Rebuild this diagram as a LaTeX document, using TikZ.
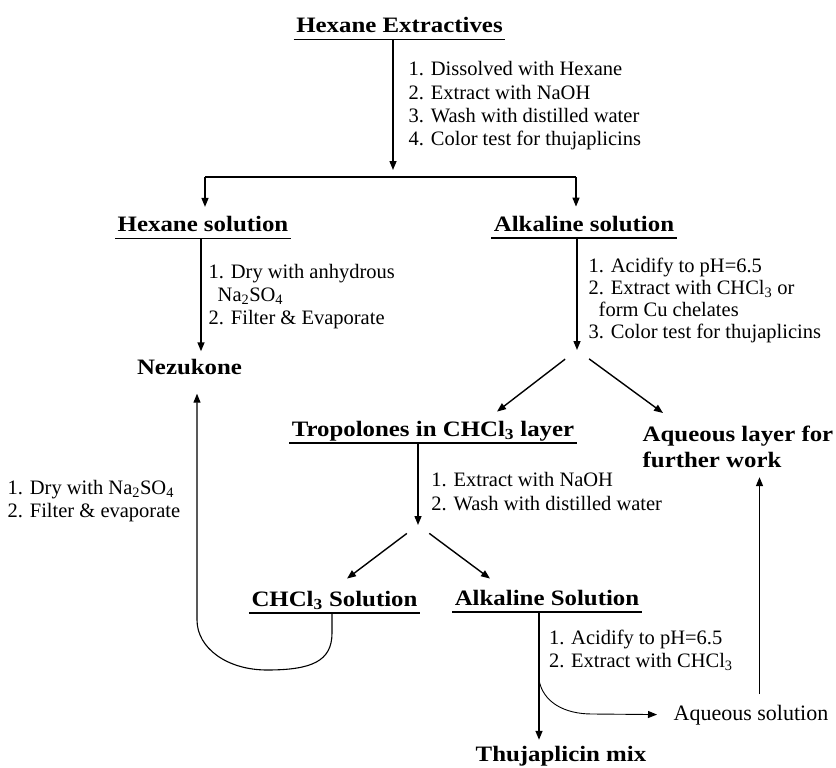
\documentclass[tikz,border=0pt]{standalone}
\usepackage{fontspec}
\setmainfont{Liberation Serif}
\newfontfamily\hdrfont[FakeStretch=1.13]{Liberation Serif}
\usetikzlibrary{arrows.meta}

\begin{document}
\begin{tikzpicture}[x=1pt, y=-1pt, line width=1.4pt,
    arr/.style={-{Triangle[length=9pt,width=7pt]}},
    bold/.style={font=\hdrfont\bfseries\fontsize{22}{26}\selectfont},
    hdr/.style={bold, inner xsep=2pt, inner ysep=0pt, text height=16pt, text depth=6pt},
    steps/.style={font=\fontsize{20.5}{23.3}\selectfont, align=left, inner sep=0pt, anchor=north west}]
    \useasboundingbox (0,0) rectangle (836,768);

    \node[hdr, anchor=south] (ext) at (399.5,39.3) {Hexane Extractives};
    \node[hdr, anchor=south] (hexsol) at (203,238.3) {Hexane solution};
    \node[hdr, anchor=south] (alksol) at (584,238) {Alkaline solution};
    \node[hdr, anchor=base] (nezu) at (189.5,374) {Nezukone};
    \node[hdr, anchor=south] (trop) at (433,443) {Tropolones in CHCl\textsubscript{3} layer};
    \node[bold, align=left, inner sep=0pt, anchor=north west] (aqlay) at (642,425) {Aqueous layer for\\further work};
    \node[hdr, anchor=south] (chsol) at (334.5,613) {CHCl\textsubscript{3} Solution};
    \node[hdr, anchor=south] (alksol2) at (547,612) {Alkaline Solution};
    \node[hdr, anchor=base] (thuja) at (561,761.5) {Thujaplicin mix};
    \node[font=\fontsize{22}{26}\selectfont, inner sep=0pt, anchor=base west] (aqsol) at (673,720) {Aqueous solution};

    \node[steps] (st1) at (408,61) {1. Dissolved with Hexane\\2. Extract with NaOH\\3. Wash with distilled water\\4. Color test for thujaplicins};
    \node[steps] (st2) at (208,263.3) {1. Dry with anhydrous\\\hspace*{9pt}Na\textsubscript{2}SO\textsubscript{4}\\2. Filter \& Evaporate};
    \node[steps, font=\fontsize{20.5}{22}\selectfont] (st3) at (588,257.7) {1. Acidify to pH=6.5\\2. Extract with CHCl\textsubscript{3} or\\\hspace*{10pt}form Cu chelates\\3. Color test for thujaplicins};
    \node[steps] (st4) at (7,479.3) {1. Dry with Na\textsubscript{2}SO\textsubscript{4}\\2. Filter \& evaporate};
    \node[steps] (st5) at (430.7,472) {1. Extract with NaOH\\2. Wash with distilled water};
    \node[steps] (st6) at (548.3,629.3) {1. Acidify to pH=6.5\\2. Extract with CHCl\textsubscript{3}};

    % underlines
    \draw (ext.south west) -- (ext.south east);
    \draw (hexsol.south west) -- (hexsol.south east);
    \draw (alksol.south west) -- (alksol.south east);
    \draw (trop.south west) -- (trop.south east);
    \draw (chsol.south west) -- (chsol.south east);
    \draw (alksol2.south west) -- (alksol2.south east);

    \coordinate (split) at (393,177);
    \coordinate (sl) at (205,177);
    \coordinate (sr) at (576,177);
    \coordinate (fk1) at (577,350);
    \coordinate (fk2) at (418,525);

    \draw[arr, shorten >=7pt] (ext.south -| split) -- (split);
    \draw (sl) -- (sr);
    \draw[arr, shorten >=8pt] (sl) -- (sl |- hexsol.north);
    \draw[arr, shorten >=8pt] (sr) -- (sr |- alksol.north);

    \draw[arr, shorten >=6pt] ([xshift=-2pt]hexsol.south) -- ([xshift=-2pt]hexsol.south |- nezu.north);

    \draw[arr] (fk1 |- alksol.south) -- (fk1);
    \draw[arr, shorten <=15pt] (fk1) -- ([xshift=64pt,yshift=8pt]trop.north);
    \draw[arr, shorten <=15pt] (fk1) -- ([xshift=21pt,yshift=12pt]aqlay.north west);

    \draw[arr] (fk2 |- trop.south) -- (fk2);
    \draw[arr, shorten <=14pt] (fk2) -- ([xshift=12.5pt,yshift=11pt]chsol.north);
    \draw[arr, shorten <=14pt] (fk2) -- ([xshift=-57pt,yshift=10pt]alksol2.north);

    \draw[arr, line width=1.1pt] ([xshift=-2.5pt]chsol.south) -- ++(0,20)
        .. controls +(0,28) and +(45,0) .. ++(-65,37)
        .. controls +(-40,0) and +(0,28) .. ++(-70,-50)
        -- ([xshift=7.5pt,yshift=-13pt]nezu.south);

    \draw[arr, shorten >=5pt] ([xshift=-8pt]alksol2.south) -- ([xshift=-8pt]alksol2.south |- thuja.north);
    \draw[arr, line width=0.9pt, shorten >=16pt] ([xshift=-8pt,yshift=-68pt]alksol2.south)
        .. controls +(4,22) and +(-28,0) .. ++(53,34) -- (aqsol.west);
    \draw[arr, shorten <=10pt, shorten >=9pt] ([xshift=8.5pt]aqsol.north) -- ([xshift=8.5pt]aqsol.north |- aqlay.south);
\end{tikzpicture}
\end{document}
